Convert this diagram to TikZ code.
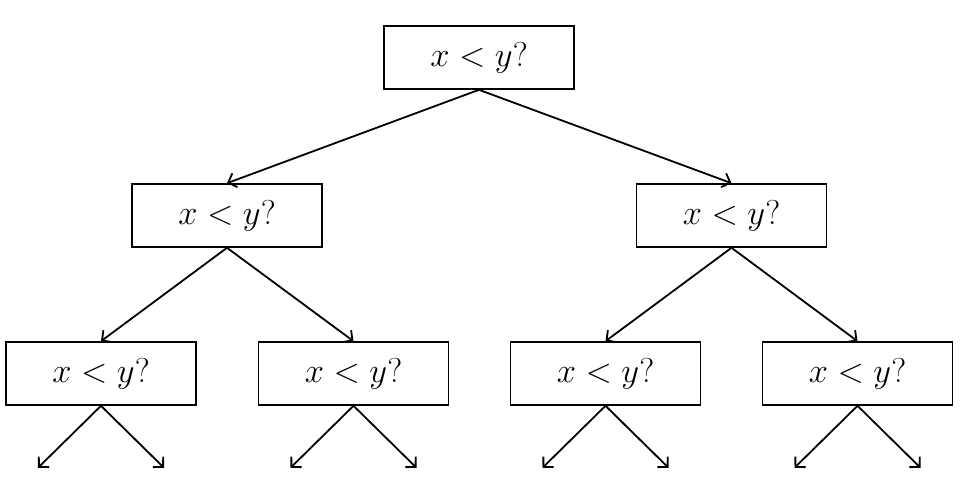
\documentclass[tikz,border=0pt]{standalone}
\usetikzlibrary{arrows.meta}
\begin{document}
\begin{tikzpicture}[x=0.5pt,y=-0.5pt,
  test/.style={draw, line width=0.8pt, minimum width=95pt, minimum height=31.5pt,
    inner sep=0pt, font=\fontsize{16.5}{19}\selectfont},
  edge/.style={line width=0.9pt, -{Straight Barb[length=3.6pt,width=7.4pt,line width=0.9pt]}}]
  \useasboundingbox (0,0) rectangle (978,496);
  % decision nodes
  \node[test] (r)   at (479,57.5)   {$x<y?$};
  \node[test] (a)   at (227,215.5)  {$x<y?$};
  \node[test] (b)   at (731.5,215.5){$x<y?$};
  \node[test] (aa)  at (101,373.5)  {$x<y?$};
  \node[test] (ab)  at (353.5,373.5){$x<y?$};
  \node[test] (ba)  at (605.5,373.5){$x<y?$};
  \node[test] (bb)  at (857.5,373.5){$x<y?$};
  % open ends below the last level
  \foreach \n in {aa,ab,ba,bb} {
    \coordinate (\n-l) at ([shift={(-63,62)}]\n.south);
    \coordinate (\n-r) at ([shift={(63,62)}]\n.south);
  }
  % connectors
  \draw[edge] (r.south) -- (a.north);
  \draw[edge] (r.south) -- (b.north);
  \draw[edge] (a.south) -- (aa.north);
  \draw[edge] (a.south) -- (ab.north);
  \draw[edge] (b.south) -- (ba.north);
  \draw[edge] (b.south) -- (bb.north);
  \foreach \n in {aa,ab,ba,bb} {
    \draw[edge] (\n.south) -- (\n-l);
    \draw[edge] (\n.south) -- (\n-r);
  }
\end{tikzpicture}
\end{document}
